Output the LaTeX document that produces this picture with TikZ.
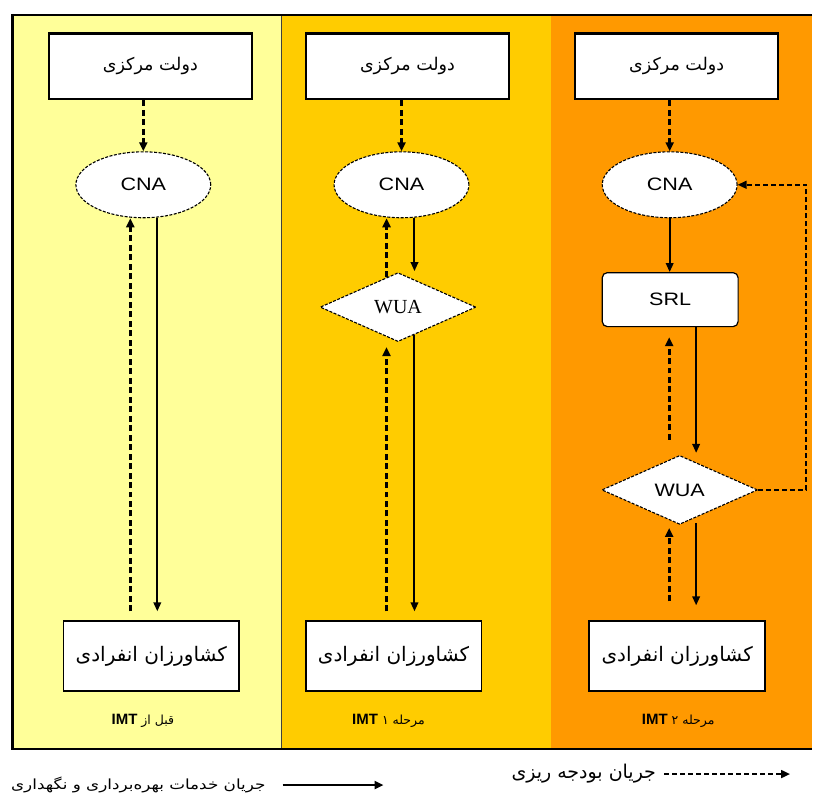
\documentclass[tikz,border=0pt]{standalone}
\usepackage{fontspec}
\usepackage{graphicx}
\setmainfont{Liberation Sans}
\newfontfamily\arabicfont[Script=Arabic]{DejaVu Sans}
\newfontfamily\timesfont{Liberation Serif}
\TeXXeTstate=1
\usetikzlibrary{arrows.meta,shapes.geometric,calc}

\definecolor{paleyellow}{HTML}{FFFF99}
\definecolor{goldpanel}{HTML}{FFCC00}
\definecolor{amberpanel}{HTML}{FF9900}

% right-to-left Persian text
\newcommand{\fa}[1]{{\arabicfont\beginR #1\endR}}
% slightly widened labels
\newcommand{\wide}[1]{\scalebox{1.2}[1]{#1}}
% bold IMT inside a right-to-left caption
\newcommand{\imt}{\beginL{\normalfont\fontsize{15}{17}\selectfont\bfseries IMT}\endL}

\tikzset{
  govbox/.style={draw=black, line width=2.2pt, fill=white, minimum width=203pt,
    minimum height=66pt, inner sep=0pt, font=\fontsize{17.5}{20}\selectfont},
  farmbox/.style={draw=black, line width=1.8pt, fill=white, minimum width=176pt,
    minimum height=70pt, inner sep=0pt, font=\fontsize{20}{23}\selectfont},
  agency/.style={ellipse, draw=black, dash pattern=on 3pt off 1.5pt, line width=1.1pt,
    fill=white, minimum width=135pt, minimum height=66pt, inner sep=0pt,
    font=\fontsize{18}{20}\selectfont},
  union/.style={diamond, draw=black, dash pattern=on 3pt off 1.5pt, line width=1.1pt,
    fill=white, minimum width=156pt, minimum height=69pt, inner sep=0pt, aspect=2.2},
  srlbox/.style={rectangle, rounded corners=5pt, draw=black, line width=1.2pt, fill=white,
    minimum width=136pt, minimum height=54pt, inner sep=0pt, font=\fontsize{18}{20}\selectfont},
  caption/.style={inner sep=0pt, font=\fontsize{12.5}{14}\selectfont},
  service/.style={line width=2pt, -{Triangle[length=9pt,width=7.5pt]}},
  budget/.style={line width=2.8pt, dash pattern=on 6pt off 3.5pt,
    -{Triangle[length=9pt,width=8pt]}},
  feedback/.style={line width=1.5pt, dash pattern=on 5pt off 3pt,
    -{Triangle[length=9pt,width=8pt]}},
}

\begin{document}
\begin{tikzpicture}[x=1pt,y=-1pt]
  % page and panels
  \fill[white] (0,0) rectangle (813,796);
  \fill[paleyellow] (13,15) rectangle (282,750);
  \fill[goldpanel] (282,15) rectangle (552,750);
  \fill[amberpanel] (552,15) rectangle (813,750);
  \draw[line width=0.9pt, black!75] (282,15) -- (282,750);
  \draw[line width=2pt] (813,15) -- (13,15);
  \draw[line width=2pt] (13,750) -- (813,750);
  \draw[line width=3pt] (13,14) -- (13,751);

  % ---- before IMT ----
  \node[govbox] (gov1) at (150.5,66.5) {\fa{دولت مرکزی}};
  \node[agency] (cna1) at (143.5,185) {\wide{CNA}};
  \node[farmbox] (farm1) at (151.5,657) {\fa{کشاورزان انفرادی}};
  \node[caption] (cap1) at (143,722) {\fa{قبل از \imt}};

  \draw[budget] (gov1.south -| cna1.north) -- (cna1.north);
  \draw[budget] ($(farm1.north -| cna1.south)+(-13,-9)$) -- ($(cna1.south)+(-13,0)$);
  \draw[service] ($(cna1.south)+(14,0)$) -- ($(farm1.north -| cna1.south)+(14,-9)$);

  % ---- stage 1 ----
  \node[govbox] (gov2) at (408,66.5) {\fa{دولت مرکزی}};
  \node[agency] (cna2) at (402,185) {\wide{CNA}};
  \node[union, font=\timesfont\fontsize{20}{22}\selectfont] (wua2) at (398.5,307.5) {WUA};
  \node[farmbox] (farm2) at (394,657) {\fa{کشاورزان انفرادی}};
  \node[caption] (cap2) at (389,722) {\fa{مرحله ۱ \imt}};

  \draw[budget] (gov2.south -| cna2.north) -- (cna2.north);
  \draw[budget] ($(wua2.north)+(-11.5,5)$) -- ($(cna2.south)+(-15,0)$);
  \draw[service] ($(cna2.south)+(13,0)$) -- ($(wua2.north)+(16.5,-1)$);
  \draw[budget] ($(farm2.north -| wua2.south)+(-11.5,-9)$) -- ($(wua2.south)+(-11.5,5)$);
  \draw[service] ($(wua2.south)+(16.5,-7)$) -- ($(farm2.north -| wua2.south)+(16.5,-9)$);

  % ---- stage 2 ----
  \node[govbox] (gov3) at (677.5,66.5) {\fa{دولت مرکزی}};
  \node[agency] (cna3) at (670.5,185) {\wide{CNA}};
  \node[srlbox] (srl3) at (671,300) {\wide{SRL}};
  \node[union, font=\fontsize{18}{20}\selectfont] (wua3) at (680.5,490.5) {\wide{WUA}};
  \node[farmbox] (farm3) at (678,657) {\fa{کشاورزان انفرادی}};
  \node[caption] (cap3) at (679,722) {\fa{مرحله ۲ \imt}};

  \draw[budget] (gov3.south -| cna3.north) -- (cna3.north);
  \draw[service] (cna3.south) -- (srl3.north -| cna3.south);
  \draw[budget] ($(wua3.north)+(-10.5,-15)$) -- ($(srl3.south)+(-1,10)$);
  \draw[service] ($(srl3.south)+(26,0)$) -- ($(wua3.north)+(16.5,-2)$);
  \draw[budget] ($(farm3.north)+(-8,-19)$) -- ($(wua3.south)+(-10.5,3)$);
  \draw[service] ($(wua3.south)+(16.5,-2)$) -- ($(farm3.north)+(19,-15)$);
  \draw[feedback] (wua3.east) -- ++(48,0) |- (cna3.east);

  % ---- legend ----
  \coordinate (svcA) at (283,786);
  \coordinate (svcB) at (384,786);
  \draw[line width=2pt, -{Triangle[length=9pt,width=8pt]}] (svcA) -- (svcB);
  \node[anchor=east, inner sep=0pt, font=\fontsize{14}{16}\selectfont] (svcText) at (266,786)
    {\wide{\fa{جریان خدمات بهره‌برداری و نگهداری}}};

  \coordinate (budA) at (665,775);
  \coordinate (budB) at (791,775);
  \draw[line width=1.8pt, dash pattern=on 5pt off 3pt, -{Triangle[length=9pt,width=8pt]}] (budA) -- (budB);
  \node[anchor=east, inner sep=0pt, font=\fontsize{19}{21}\selectfont] (budText) at (657,775)
    {\fa{جریان بودجه ریزی}};
\end{tikzpicture}
\end{document}
